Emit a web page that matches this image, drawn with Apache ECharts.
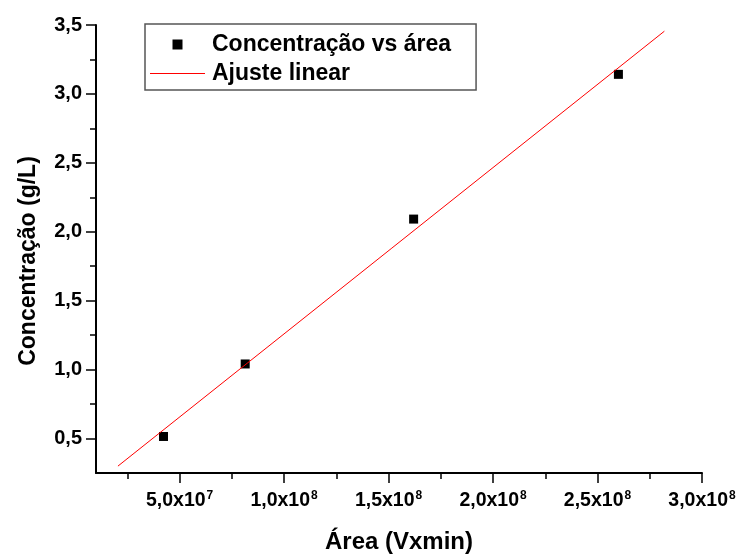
<!DOCTYPE html>
<html>
<head>
<meta charset="utf-8">
<script src="https://cdn.jsdelivr.net/npm/echarts@6/dist/echarts.min.js"></script>
<style>html,body{margin:0;padding:0;background:#fff}#c{width:738px;height:554px}</style>
</head>
<body>
<div id="c"></div>
<script>
// Data
var areaX = [4.23e7, 8.14e7, 1.62e8, 2.60e8];
var concY = [0.515, 1.041, 2.092, 3.142];
var fitX = [2.05e7, 2.82e8];
var fitY = [0.300, 3.455];
var xTickValues = [5e7, 1e8, 1.5e8, 2e8, 2.5e8, 3e8];
var xMinorTicks = [2.5e7, 7.5e7, 1.25e8, 1.75e8, 2.25e8, 2.75e8];
var yTickValues = [0.5, 1.0, 1.5, 2.0, 2.5, 3.0, 3.5];
var yMinorTicks = [0.75, 1.25, 1.75, 2.25, 2.75, 3.25];
var seriesNames = ['Concentração vs área', 'Ajuste linear'];
var xTitle = 'Área (Vxmin)';
var yTitle = 'Concentração (g/L)';

var FONT = '"Liberation Sans", Arial, sans-serif';
var chart = echarts.init(document.getElementById('c'), null, {renderer: 'canvas'});

function xFmt(v) {
  var e = Math.floor(Math.log10(v) + 1e-9);
  var m = v / Math.pow(10, e);
  return '{b|' + m.toFixed(1).replace('.', ',') + 'x10}{sup|' + e + '}';
}

var scatterData = areaX.map(function (x, i) { return [x, concY[i]]; });
var fitData = fitX.map(function (x, i) { return [x, fitY[i]]; });

var axisMin = 1e7, axisMax = 3e8, yMin = 0.25, yMax = 3.5;
// legend icons: invisible moveTo extents fix the 55x10 icon box
var squareIcon = 'path://M0,0 M55,10 M22.5,0 L32.5,0 L32.5,10 L22.5,10 Z';
var lineIcon = 'path://M0,0 M55,10 M0,4.5 L55,4.5 L55,5.5 L0,5.5 Z';

chart.setOption({
  animation: false,
  backgroundColor: '#fff',
  grid: {left: 96, right: 36, top: 25, bottom: 81, containLabel: false, outerBoundsMode: 'none'},
  legend: {
    left: 145, top: 24, orient: 'vertical',
    padding: [9, 25, 5, 5], itemGap: 6,
    itemWidth: 55, itemHeight: 10,
    borderColor: '#555', borderWidth: 1.5,
    textStyle: {fontFamily: FONT, fontWeight: 'bold', fontSize: 23, color: '#000', lineHeight: 22, padding: [0, 0, 0, 2]},
    data: [
      {name: seriesNames[0], icon: squareIcon, itemStyle: {color: '#000'}},
      {name: seriesNames[1], icon: lineIcon, itemStyle: {color: '#ff0000'}}
    ]
  },
  xAxis: [{
    type: 'value', min: axisMin, max: axisMax, position: 'bottom',
    name: xTitle, nameLocation: 'middle', nameGap: 57,
    nameTextStyle: {fontFamily: FONT, fontWeight: 'bold', fontSize: 24, color: '#000'},
    splitLine: {show: false},
    axisLine: {show: true, lineStyle: {color: '#000', width: 2}},
    axisTick: {show: true, inside: false, length: 10, lineStyle: {color: '#000', width: 1.5}, customValues: xTickValues},
    axisLabel: {
      show: true, margin: 17, customValues: xTickValues, formatter: xFmt,
      rich: {
        b: {fontFamily: FONT, fontWeight: 'bold', fontSize: 19.5, color: '#000'},
        sup: {fontFamily: FONT, fontWeight: 'bold', fontSize: 12, color: '#000', padding: [0, 0, 9, 1]}
      }
    }
  }, {
    type: 'value', min: axisMin, max: axisMax, position: 'bottom', offset: 0,
    splitLine: {show: false},
    axisLine: {show: false},
    axisTick: {show: true, inside: false, length: 6, lineStyle: {color: '#000', width: 1.5}, customValues: xMinorTicks},
    axisLabel: {show: false}
  }],
  yAxis: [{
    type: 'value', min: yMin, max: yMax, position: 'left',
    name: yTitle, nameLocation: 'middle', nameGap: 56,
    nameTextStyle: {fontFamily: FONT, fontWeight: 'bold', fontSize: 23, color: '#000', padding: [0, 24, 0, 0]},
    splitLine: {show: false},
    axisLine: {show: true, lineStyle: {color: '#000', width: 2}},
    axisTick: {show: true, inside: false, length: 10, lineStyle: {color: '#000', width: 1.5}, customValues: yTickValues},
    axisLabel: {
      show: true, margin: 14, customValues: yTickValues,
      fontFamily: FONT, fontWeight: 'bold', fontSize: 20, color: '#000',
      formatter: function (v) { return v.toFixed(1).replace('.', ','); }
    }
  }, {
    type: 'value', min: yMin, max: yMax, position: 'left', offset: 0,
    splitLine: {show: false},
    axisLine: {show: false},
    axisTick: {show: true, inside: false, length: 6, lineStyle: {color: '#000', width: 1.5}, customValues: yMinorTicks},
    axisLabel: {show: false}
  }],
  series: [{
    name: seriesNames[0], type: 'scatter', xAxisIndex: 0, yAxisIndex: 0,
    symbol: 'rect', symbolSize: 9,
    itemStyle: {color: '#000', opacity: 1},
    emphasis: {disabled: true},
    data: scatterData, z: 3
  }, {
    name: seriesNames[1], type: 'line', xAxisIndex: 0, yAxisIndex: 0,
    showSymbol: false, symbol: 'none',
    lineStyle: {color: '#ff0000', width: 1},
    itemStyle: {color: '#ff0000'},
    emphasis: {disabled: true},
    data: fitData, z: 4
  }]
});
</script>
</body>
</html>
